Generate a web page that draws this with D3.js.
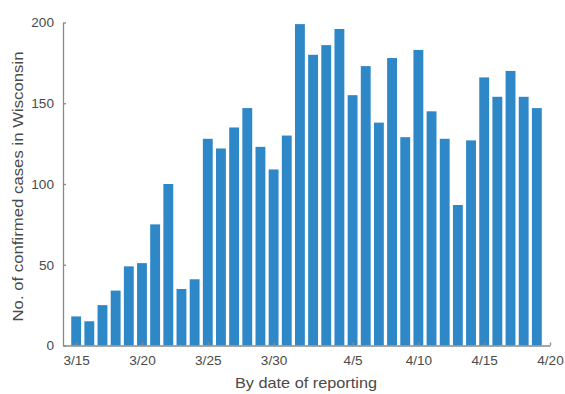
<!DOCTYPE html>
<html><head><meta charset="utf-8">
<script src="https://cdn.jsdelivr.net/npm/d3@7"></script>
<style>body{margin:0;background:#fff}svg{display:block}text{font-family:"Liberation Sans",Arial,sans-serif}</style>
</head><body><svg id="c" width="565" height="394"></svg>
<script>
const dates = ["3/15","3/16","3/17","3/18","3/19","3/20","3/21","3/22","3/23","3/24","3/25","3/26","3/27","3/28","3/29","3/30","3/31","4/1","4/2","4/3","4/4","4/5","4/6","4/7","4/8","4/9","4/10","4/11","4/12","4/13","4/14","4/15","4/16","4/17","4/18","4/19"];
const cases = [18,15,25,34,49,51,75,100,35,41,128,122,135,147,123,109,130,199,180,186,196,155,173,138,178,129,183,145,128,87,127,166,154,170,154,147];
const xTickLabels = ["3/15","3/20","3/25","3/30","4/5","4/10","4/15","4/20"];
const xTickIdx = [0,5,10,15,21,26,31,36];
const yTicks = [0,50,100,150,200];

const svg = d3.select("#c");
const L=63, R=550, T=22.5, B=345.5;
const x = d3.scaleLinear().domain([-1,36]).range([L,R]);
const y = d3.scaleLinear().domain([0,200]).range([B,T]);
const bw = (x(1)-x(0))*0.75;
const axisCol="#8a8a8a", txtCol="#4a4a4a";

svg.append("g").selectAll("rect").data(cases).join("rect")
  .attr("x",(d,i)=>x(i)-bw/2).attr("width",bw)
  .attr("y",d=>y(d)).attr("height",d=>y(0)-y(d))
  .attr("fill","#2e88c8");

const yAx = svg.append("g").attr("transform",`translate(${L},0)`)
  .call(d3.axisLeft(y).tickValues(yTicks).tickSizeInner(-3).tickSizeOuter(0).tickPadding(9));
const xAx = svg.append("g").attr("transform",`translate(0,${B})`)
  .call(d3.axisBottom(x).tickValues(xTickIdx).tickFormat((d,i)=>xTickLabels[i]).tickSizeInner(-3).tickSizeOuter(0).tickPadding(10));
[yAx,xAx].forEach(g=>{
  g.selectAll("path,line").attr("stroke",axisCol).attr("stroke-width",1.3);
  g.selectAll("text").attr("fill",txtCol).attr("font-size",13.6);
});

svg.append("text").attr("x",306).attr("y",388).attr("text-anchor","middle")
  .attr("font-size",14.5).attr("fill",txtCol)
  .attr("textLength",142).attr("lengthAdjust","spacingAndGlyphs").text("By date of reporting");
svg.append("text").attr("transform",`translate(23,186.5) rotate(-90)`).attr("text-anchor","middle")
  .attr("font-size",14.5).attr("fill",txtCol)
  .attr("textLength",270).attr("lengthAdjust","spacingAndGlyphs").text("No. of confirmed cases in Wisconsin");
</script></body></html>
